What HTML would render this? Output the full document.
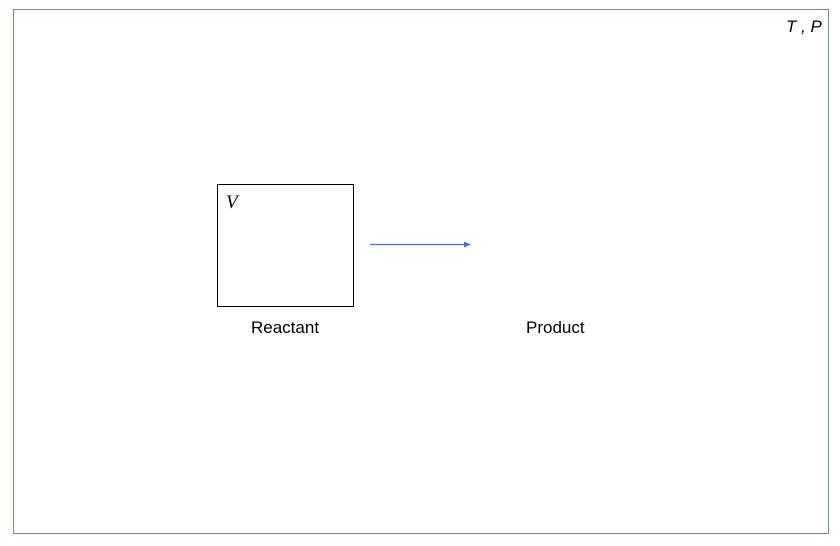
<!DOCTYPE html>
<html><head><style>
body{margin:0;width:840px;height:546px;background:#fff;position:relative;overflow:hidden;font-family:"Liberation Sans",sans-serif;}
.t{position:absolute;font-size:17px;color:#000;}
</style></head><body>
<div style="position:absolute;left:13px;top:9px;width:814px;height:523px;border:1px solid #6f86b5;"></div>
<div class="t" style="left:786px;top:17px;font-style:italic;">T , P</div>
<div style="position:absolute;left:217px;top:184px;width:135px;height:121px;border:1px solid #000;"></div>
<div class="t" style="left:226px;top:192px;font-family:'Liberation Serif',serif;font-style:italic;font-size:19px;">V</div>
<svg style="position:absolute;left:0;top:0" width="840" height="546">
<line x1="370" y1="244.5" x2="465" y2="244.5" stroke="#4472c4" stroke-width="1.2"/>
<polygon points="471,244.5 464,241.5 464,247.5" fill="#4472c4"/>
</svg>
<div class="t" style="left:251px;top:318px;">Reactant</div>
<div class="t" style="left:526px;top:318px;">Product</div>
</body></html>
